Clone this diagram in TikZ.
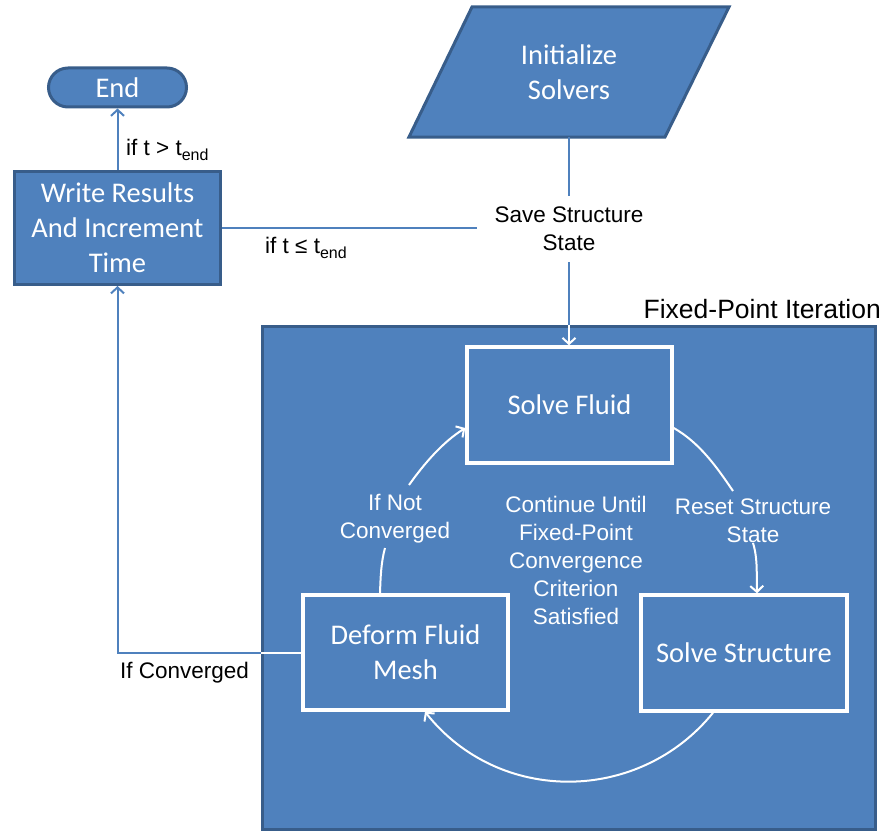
\documentclass[tikz,border=0pt]{standalone}
\usepackage{fontspec}
\setmainfont{Carlito}
\newfontfamily\arialf{Liberation Sans}
\usetikzlibrary{arrows.meta,calc}
\definecolor{boxblue}{HTML}{4F81BD}
\definecolor{boxdark}{HTML}{385D8A}
\definecolor{lineblue}{HTML}{4F81BD}
\newcommand{\tendsub}{t\raisebox{-5pt}{\fontsize{16}{16}\selectfont end}}
\begin{document}
\begin{tikzpicture}[x=1pt,y=-1pt,
  flowbox/.style={rectangle, fill=boxblue, draw=boxdark, line width=3pt, text=white, align=center, font=\fontsize{28.5}{35}\selectfont, inner sep=0pt},
  innerbox/.style={rectangle, fill=boxblue, draw=white, line width=3.5pt, text=white, align=center, font=\fontsize{28.5}{35}\selectfont, inner sep=0pt},
  lbl/.style={font=\arialf\fontsize{22.5}{28}\selectfont, align=center, inner sep=0pt},
  wlbl/.style={lbl, text=white},
  bconn/.style={draw=lineblue, line width=2pt},
  wconn/.style={draw=white, line width=2pt},
  barb/.style={-{Straight Barb[length=6pt,width=13pt]}}
]
\useasboundingbox (0,0) rectangle (885,832);

% big iteration box
\node[rectangle, fill=boxblue, draw=boxdark, line width=3pt, minimum width=613pt, minimum height=503pt, inner sep=0pt] (fpi) at (569,578) {};
\node[lbl, font=\arialf\fontsize{26.5}{30}\selectfont, anchor=east] (fpil) at (881,309) {Fixed-Point Iteration};

% initialize (parallelogram)
\filldraw[fill=boxblue, draw=boxdark, line width=3pt, line join=miter] (472,7) -- (729,7) -- (665,137) -- (409,137) -- cycle;
\node[text=white, align=center, font=\fontsize{28.5}{35}\selectfont, inner sep=0pt, minimum height=130pt, minimum width=200pt] (init) at (569,72) {Initialize\\Solvers};

% end and write
\node[flowbox, rounded corners=19.5pt, minimum width=138pt, minimum height=39pt] (end) at (117.5,87.5) {End};
\node[flowbox, minimum width=206pt, minimum height=113pt] (write) at (117.5,228) {\raisebox{-2pt}{\parbox{200pt}{\centering Write Results\\And Increment\\Time}}};

% save label
\node[lbl, inner xsep=17pt, inner ysep=11pt] (save) at (569,229) {Save Structure\\State};

% inner boxes
\node[innerbox, minimum width=205pt, minimum height=116pt] (sf) at (569.5,405) {Solve Fluid};
\node[innerbox, minimum width=206pt, minimum height=116pt] (ss) at (744,653) {Solve Structure};
\node[innerbox, minimum width=205pt, minimum height=115pt] (df) at (405.5,652.5) {Deform Fluid\\Mesh};

% inner labels
\node[wlbl] (cont) at (576,560.5) {Continue Until\\Fixed-Point\\Convergence\\Criterion\\Satisfied};
\node[wlbl] (notc) at (395,518.5) {If Not\\Converged};
\node[wlbl] (reset) at (753,520.5) {Reset Structure\\State};

% outer labels
\node[lbl, anchor=west] (gt) at (126,150) {if t > \tendsub};
\node[lbl, anchor=west] (le) at (265,248) {if t ≤ \tendsub};
\node[lbl, anchor=west] (conv) at (120,673) {If Converged};

% outer connectors
\draw[bconn, barb] (write.north) -- (end.south);
\draw[bconn] (init.south) -- (save.north);
\draw[bconn] (write.east) -- (write.east -| save.west);
\draw[bconn] (save.south) -- (save.south |- fpi.north);
\draw[wconn, barb] (save.south |- fpi.north) -- (save.south |- sf.north);
\draw[bconn, barb] (df.west) -| (write.south);
\draw[wconn] (df.west) -- (df.west -| fpi.west);

% loop connectors
\coordinate (r1) at (733,491);
\coordinate (r2) at (753,543);
\coordinate (n1) at (409,485);
\coordinate (n2) at (385,548);
\draw[wconn] ($(sf.east)+(0,23)$) .. controls (700,443) and (717,467.5) .. (r1);
\draw[wconn, barb] (r2) .. controls (758,559) and (756.4,576) .. ($(ss.north)+(13,0)$);
\draw[wconn, barb] ($(ss.south)+(-31,0)$) .. controls (639,804) and (499,805) .. ($(df.south)+(19.5,0)$);
\draw[wconn] ($(df.north)+(-25.5,0)$) .. controls (380.5,578) and (381,562.4) .. (n2);
\draw[wconn, barb] (n1) .. controls (424.6,463) and (443,442) .. ($(sf.west)+(0,23)$);
\end{tikzpicture}
\end{document}
